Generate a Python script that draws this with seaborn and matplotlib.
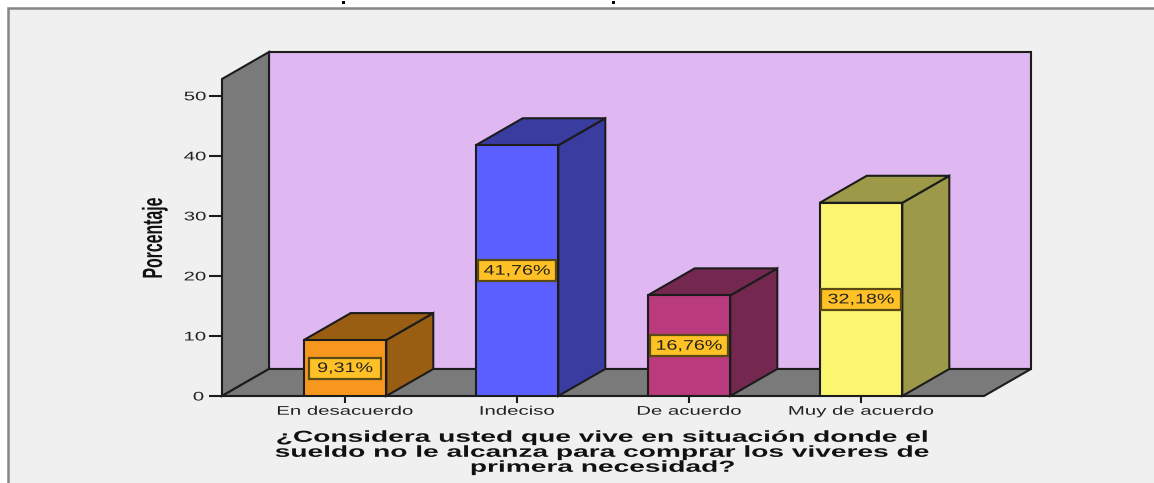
import numpy as np
import pandas as pd
import seaborn as sns
import matplotlib.pyplot as plt
from matplotlib.patches import Polygon, Rectangle
from matplotlib.patheffects import AbstractPathEffect
from matplotlib.transforms import Affine2D

categories = ['En desacuerdo', 'Indeciso', 'De acuerdo', 'Muy de acuerdo']
percent = [9.31, 41.76, 16.76, 32.18]
percent_labels = ['9,31%', '41,76%', '16,76%', '32,18%']
y_ticks = [0, 10, 20, 30, 40, 50]
x_title = ('¿Considera usted que vive en situación donde el\n'
           'sueldo no le alcanza para comprar los viveres de\n'
           'primera necesidad?')
y_title = 'Porcentaje'

front_colors = ['#F7971D', '#5C5FFF', '#B93B7D', '#FCF570']
side_colors = ['#9A5E12', '#3A3CA0', '#74274F', '#9C9A48']
edge = '#1c1c1c'
wall_purple = '#DFB8F2'
wall_gray = '#7A7A7A'
panel = '#F0F0F0'

W, H = 1154, 483


# the original image was stretched sideways, so text gets stretched the same way
class Stretch(AbstractPathEffect):
    def __init__(self, sx=1.0, sy=1.0):
        super().__init__()
        self.sx = sx
        self.sy = sy

    def draw_path(self, renderer, gc, tpath, affine, rgbFace=None):
        ext = tpath.get_extents()
        cx = (ext.x0 + ext.x1) / 2
        stretched = Affine2D().translate(-cx, 0).scale(self.sx, self.sy).translate(cx, 0) + affine
        renderer.draw_path(gc, tpath, stretched, rgbFace)


sns.set_theme(style='white')
plt.rcParams['font.family'] = ['Liberation Sans', 'DejaVu Sans']

fig = plt.figure(figsize=(W / 100, H / 100), dpi=100, facecolor='white')

# grey panel with its border, runs off the right and bottom edges
fig.patches.append(Rectangle((8 / W, -0.05), 1.1, (H - 8) / H + 0.05, transform=fig.transFigure,
                             facecolor=panel, edgecolor='#858585', linewidth=1.8, figure=fig, zorder=-1))
# what is left of the cropped title
for px in [342, 612]:
    fig.patches.append(Rectangle((px / W, (H - 4) / H), 3 / W, 3 / H, transform=fig.transFigure,
                                 facecolor='black', edgecolor='none', figure=fig, zorder=-1))

ax = fig.add_axes([222 / W, (H - 396) / H, 762 / W, 317 / H])
ax.patch.set_visible(False)

df = pd.DataFrame({'categoria': categories, 'porcentaje': percent})
sns.barplot(data=df, x='categoria', y='porcentaje', hue='categoria', palette=front_colors,
            width=0.48, saturation=1, edgecolor=edge, linewidth=1.5, dodge=False,
            legend=False, ax=ax, zorder=3)

ax.set_xlim(-0.715, 3.715)
ax.set_ylim(0, 52.8)

# depth of the fake 3D box, in data units (47 px across, 27 px up)
dx = 47 / 172
dy = 27 / 6
x0, x1 = ax.get_xlim()
y0, y1 = ax.get_ylim()

wall = dict(edgecolor=edge, linewidth=1.5, clip_on=False, zorder=1)
ax.add_patch(Polygon([(x0 + dx, y0 + dy), (x1 + dx, y0 + dy), (x1 + dx, y1 + dy), (x0 + dx, y1 + dy)],
                     facecolor=wall_purple, **wall))
ax.add_patch(Polygon([(x0, y0), (x0 + dx, y0 + dy), (x0 + dx, y1 + dy), (x0, y1)],
                     facecolor=wall_gray, **wall))
ax.add_patch(Polygon([(x0, y0), (x1, y0), (x1 + dx, y0 + dy), (x0 + dx, y0 + dy)],
                     facecolor=wall_gray, **wall))

# top and side faces built from the bars seaborn drew
for container, side, label in zip(ax.containers, side_colors, percent_labels):
    bar = container[0]
    left, right = bar.get_x(), bar.get_x() + bar.get_width()
    top = bar.get_height()
    ax.add_patch(Polygon([(right, 0), (right + dx, dy), (right + dx, top + dy), (right, top)],
                         facecolor=side, edgecolor=edge, linewidth=1.5, clip_on=False, zorder=2))
    ax.add_patch(Polygon([(left, top), (right, top), (right + dx, top + dy), (left + dx, top + dy)],
                         facecolor=side, edgecolor=edge, linewidth=1.5, clip_on=False, zorder=2))
    texts = ax.bar_label(container, labels=[label], label_type='center', fontsize=10, color='#222222',
                         bbox=dict(boxstyle='square,pad=1.15', mutation_aspect=0.22,
                                   facecolor='#FFC125', edgecolor='#5a4a14', linewidth=1.6),
                         zorder=5)
    for t in texts:
        t.set_path_effects([Stretch(1.42)])

for s in ax.spines.values():
    s.set_visible(False)

ax.set_yticks(y_ticks)
ax.tick_params(axis='y', left=True, length=9.4, width=1.5, color=edge, pad=5, labelsize=9, labelcolor='#222222')
ax.tick_params(axis='x', bottom=True, length=5, width=1.5, color=edge, pad=2, labelsize=9, labelcolor='#222222')
for t in ax.get_xticklabels() + ax.get_yticklabels():
    t.set_path_effects([Stretch(1.63)])

ax.set_xlabel(x_title, fontsize=11.5, fontweight='bold', color='#111111', linespacing=1.0, labelpad=8.7)
ax.xaxis.label.set_path_effects([Stretch(1.76)])

ax.set_ylabel('')
ax.text(-0.088, 0.498, y_title, transform=ax.transAxes, rotation=90, ha='center', va='center',
        fontsize=20, fontweight='bold', color='#111111', path_effects=[Stretch(0.57)])

plt.savefig('out.png', dpi=100, facecolor=fig.get_facecolor())
